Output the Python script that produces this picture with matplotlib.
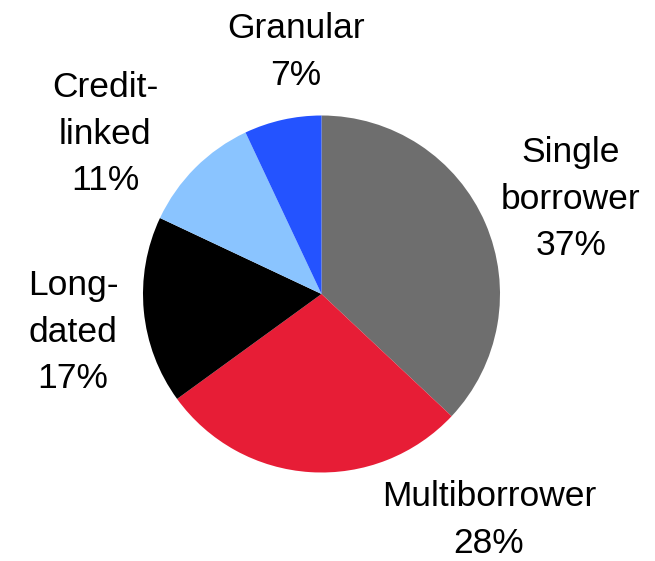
import matplotlib.pyplot as plt

labels = ["Single\nborrower\n37%", "Multiborrower\n28%", "Long-\ndated\n17%",
          "Credit-\nlinked\n11%", "Granular\n7%"]
shares = [37, 28, 17, 11, 7]
colors = ["#6e6e6e", "#e71d36", "#000000", "#8ac4ff", "#2453ff"]
# label centres in pixel coords (x, y from top)
label_pos = [(571, 199), (489, 520), (73, 332), (105, 134), (296, 52)]

W, H = 655, 561
fig = plt.figure(figsize=(W / 100, H / 100), dpi=100)
ax = fig.add_axes([0, 0, 1, 1])

ax.pie(shares, colors=colors, startangle=90, counterclock=False,
       center=(321.5, H - 294), radius=178.5, frame=True)
ax.set_xlim(0, W)
ax.set_ylim(0, H)
ax.set_aspect("equal")
ax.axis("off")

for lab, (x, y) in zip(labels, label_pos):
    ax.text(x, H - y, lab, ha="center", va="center", fontsize=25.5,
            family=["Liberation Sans", "DejaVu Sans"], linespacing=1.53)

fig.savefig("out.png", dpi=100)
